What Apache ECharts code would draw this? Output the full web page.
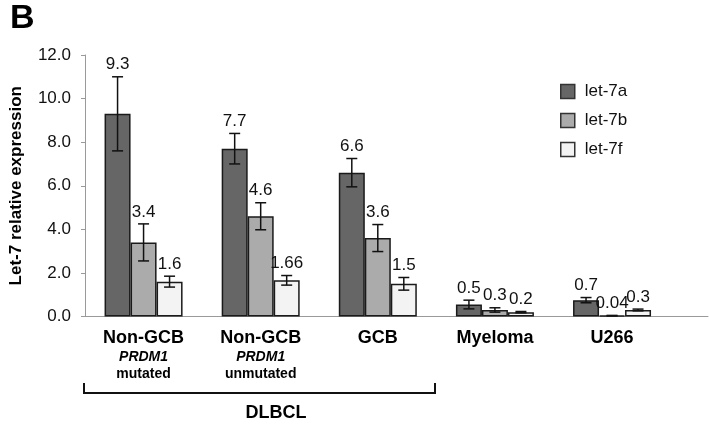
<!DOCTYPE html>
<html>
<head>
<meta charset="utf-8">
<script src="https://cdn.jsdelivr.net/npm/echarts@6/dist/echarts.min.js"></script>
<style>html,body{margin:0;padding:0;background:#fff}#c{width:709px;height:424px}</style>
</head>
<body>
<div id="c"></div>
<script>
// ---- data ----
var catMain = ['Non-GCB', 'Non-GCB', 'GCB', 'Myeloma', 'U266'];
var catGene = ['PRDM1', 'PRDM1', '', '', ''];
var catStatus = ['mutated', 'unmutated', '', '', ''];
var seriesNames = ['let-7a', 'let-7b', 'let-7f'];
var let7a = [9.3, 7.7, 6.6, 0.55, 0.75];
var let7b = [3.4, 4.6, 3.6, 0.3, 0.04];
var let7f = [1.6, 1.66, 1.5, 0.2, 0.3];
var err7a = [1.7, 0.7, 0.65, 0.2, 0.12];
var err7b = [0.85, 0.62, 0.62, 0.1, 0.01];
var err7f = [0.25, 0.22, 0.29, 0.03, 0.04];
var lab7a = ['9.3', '7.7', '6.6', '0.5', '0.7'];
var lab7b = ['3.4', '4.6', '3.6', '0.3', '0.04'];
var lab7f = ['1.6', '1.66', '1.5', '0.2', '0.3'];
var yTicks = [0, 2, 4, 6, 8, 10, 12];

// ---- build ----
var values = [let7a, let7b, let7f];
var errs = [err7a, err7b, err7f];
var labs = [lab7a, lab7b, lab7f];
var colors = ['#666666', '#ababab', '#f3f3f3'];
var BAR_W = 26;
var FONT = 'Liberation Sans, Arial, sans-serif';

var categories = catMain.map(function (m, i) { return i; });

var series = [];
values.forEach(function (vals, k) {
  series.push({
    name: seriesNames[k], type: 'bar', xAxisIndex: 0, yAxisIndex: 0,
    data: vals, barWidth: BAR_W, barGap: '0%',
    itemStyle: { color: colors[k], borderColor: '#1a1a1a', borderWidth: 1.5 },
    z: 2
  });
});
values.forEach(function (vals, k) {
  series.push({
    type: 'custom', xAxisIndex: 0, yAxisIndex: 0, z: 5, silent: true,
    data: vals.map(function (v, i) { return [i, v, errs[k][i]]; }),
    renderItem: function (params, api) {
      var i = api.value(0), v = api.value(1), e = api.value(2);
      var off = (k - 1) * BAR_W;
      var top = api.coord([i, v + e]);
      var bot = api.coord([i, Math.max(v - e, 0)]);
      var x = top[0] + off;
      var hw = 5.5;
      var st = { stroke: '#111', lineWidth: 1.5 };
      return {
        type: 'group', children: [
          { type: 'line', shape: { x1: x, y1: top[1], x2: x, y2: bot[1] }, style: st },
          { type: 'line', shape: { x1: x - hw, y1: top[1], x2: x + hw, y2: top[1] }, style: st },
          { type: 'line', shape: { x1: x - hw, y1: bot[1], x2: x + hw, y2: bot[1] }, style: st },
          { type: 'text', style: { text: labs[k][params.dataIndex], x: x, y: top[1] - 12,
            textAlign: 'center', textVerticalAlign: 'middle', fill: '#111', font: '17px ' + FONT } }
        ]
      };
    }
  });
});

var chart = echarts.init(document.getElementById('c'), null, { renderer: 'canvas' });
chart.setOption({
  animation: false,
  backgroundColor: '#fff',
  title: { text: 'B', left: 5, top: -3, textStyle: { fontSize: 34, fontWeight: 'bold', color: '#000', fontFamily: FONT } },
  legend: {
    orient: 'vertical', left: 555, top: 78, itemWidth: 14, itemHeight: 14, itemGap: 12,
    data: seriesNames, icon: 'rect',
    itemStyle: { borderColor: '#333', borderWidth: 1.5 },
    textStyle: { fontSize: 17, color: '#111', fontFamily: FONT, padding: [0, 0, 0, 5] }
  },
  grid: [
    { left: 84, top: 55, width: 586.6, bottom: 107.5, containLabel: false },
    { left: 84, top: 55, right: 1, bottom: 107.5, containLabel: false }
  ],
  xAxis: [
    {
      type: 'category', gridIndex: 0, data: categories,
      axisLine: { lineStyle: { color: '#9a9a9a', width: 1 } },
      axisTick: { show: false },
      axisLabel: {
        interval: 0, margin: 11, fontFamily: FONT, color: '#000',
        formatter: function (v, i) {
          var s = '{a|' + catMain[i] + '}';
          if (catGene[i]) s += '\n{b|' + catGene[i] + '}';
          if (catStatus[i]) s += '\n{c|' + catStatus[i] + '}';
          return s;
        },
        rich: {
          a: { fontSize: 18, fontWeight: 'bold', lineHeight: 21, fontFamily: FONT, color: '#000' },
          b: { fontSize: 14, fontWeight: 'bold', fontStyle: 'italic', lineHeight: 17, fontFamily: FONT, color: '#000' },
          c: { fontSize: 14, fontWeight: 'bold', lineHeight: 17, fontFamily: FONT, color: '#000' }
        }
      }
    },
    {
      type: 'value', gridIndex: 1, min: 0, max: 1,
      axisLine: { show: true, lineStyle: { color: '#9a9a9a', width: 1 } },
      axisTick: { show: false }, axisLabel: { show: false }, splitLine: { show: false }
    }
  ],
  yAxis: [
    {
      type: 'value', gridIndex: 0, min: yTicks[0], max: yTicks[yTicks.length - 1], interval: yTicks[1] - yTicks[0],
      name: 'Let-7 relative expression', nameLocation: 'middle', nameGap: 60,
      nameTextStyle: { fontSize: 17, fontWeight: 'bold', color: '#000', fontFamily: FONT, padding: [0, 0, 0, 0] },
      axisLine: { show: true, lineStyle: { color: '#9a9a9a', width: 1 } },
      axisTick: { show: true, length: 4, lineStyle: { color: '#9a9a9a' } },
      axisLabel: { margin: 14, fontSize: 17, color: '#111', fontFamily: FONT, formatter: function (v) { return v.toFixed(1); } },
      splitLine: { show: false }
    },
    { type: 'value', gridIndex: 1, min: 0, max: 1, show: false }
  ],
  series: series,
  graphic: [
    { type: 'polyline', shape: { points: [[84, 383], [84, 393], [435, 393], [435, 383]] },
      style: { stroke: '#111', lineWidth: 2, fill: null } },
    { type: 'text', x: 276, y: 413, style: { text: 'DLBCL', textAlign: 'center', textVerticalAlign: 'middle',
      font: 'bold 18px ' + FONT, fill: '#000' } }
  ]
});
</script>
</body>
</html>
